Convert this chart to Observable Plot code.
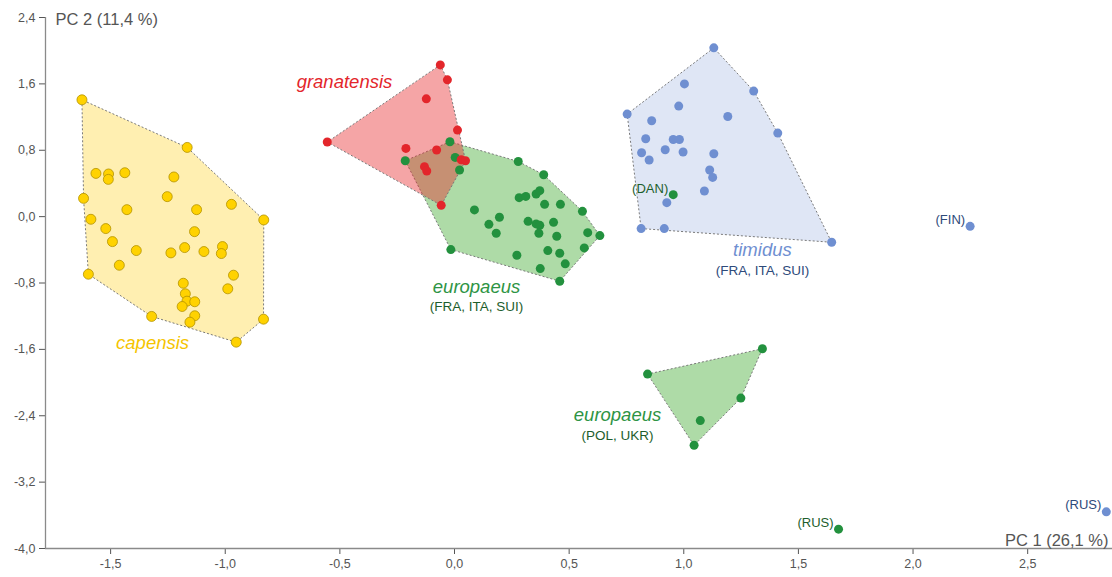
<!DOCTYPE html>
<html>
<head>
<meta charset="utf-8">
<script src="https://cdn.jsdelivr.net/npm/d3@7"></script>
<script src="https://cdn.jsdelivr.net/npm/@observablehq/plot@0.6"></script>
<style>
  html, body { margin: 0; padding: 0; background: #fff; }
  #chart { width: 1112px; height: 577px; }
</style>
</head>
<body>
<div id="chart"></div>
<script>
// ---- data (PC1, PC2) ----
const capensis = [
  [-1.625, 1.408], [-1.166, 0.834], [-1.564, 0.521], [-1.509, 0.514], [-1.510, 0.449],
  [-1.438, 0.529], [-1.224, 0.478], [-1.618, 0.220], [-1.253, 0.241], [-1.429, 0.084],
  [-1.125, 0.084], [-0.973, 0.148], [-0.832, -0.040], [-1.586, -0.032], [-1.521, -0.144],
  [-1.134, -0.181], [-1.492, -0.301], [-1.388, -0.409], [-1.237, -0.437], [-1.177, -0.373],
  [-1.093, -0.421], [-1.012, -0.361], [-1.017, -0.445], [-1.462, -0.586], [-1.597, -0.694],
  [-0.964, -0.706], [-0.989, -0.870], [-1.183, -0.803], [-1.174, -0.930], [-1.167, -1.019],
  [-1.133, -1.026], [-1.188, -1.083], [-1.133, -1.195], [-1.154, -1.272], [-1.321, -1.203],
  [-0.833, -1.236], [-0.952, -1.513]
];
const granatensis = [
  [-0.062, 1.829], [-0.031, 1.649], [-0.123, 1.420], [0.013, 1.043], [-0.555, 0.899],
  [-0.212, 0.822], [-0.078, 0.803], [0.029, 0.686], [0.048, 0.674], [-0.131, 0.602],
  [-0.121, 0.550], [-0.058, 0.136]
];
const europaeusWest = [
  [-0.020, 0.903], [-0.215, 0.674], [0.003, 0.714], [0.022, 0.562], [0.278, 0.665],
  [0.389, 0.505], [0.282, 0.229], [0.311, 0.244], [0.356, 0.273], [0.372, 0.313],
  [0.393, 0.148], [0.462, 0.148], [0.558, 0.064], [0.087, 0.081], [0.196, -0.008],
  [0.150, -0.093], [0.182, -0.201], [0.321, -0.057], [0.356, -0.088], [0.372, -0.105],
  [0.368, -0.201], [0.432, -0.069], [0.446, -0.237], [0.581, -0.193], [0.634, -0.229],
  [0.566, -0.377], [0.459, -0.442], [0.407, -0.409], [0.483, -0.569], [0.374, -0.626],
  [0.272, -0.466], [-0.016, -0.397], [0.459, -0.779]
];
const europaeusEast = [
  [0.842, -1.898], [1.343, -1.592], [1.249, -2.187], [1.072, -2.458], [1.045, -2.756]
];
const timidus = [
  [1.131, 2.034], [1.305, 1.513], [1.003, 1.600], [0.978, 1.332], [0.753, 1.236],
  [0.860, 1.155], [1.192, 1.207], [1.410, 1.007], [0.834, 0.939], [0.954, 0.930],
  [0.981, 0.930], [0.816, 0.770], [0.849, 0.682], [0.919, 0.806], [0.997, 0.779],
  [1.131, 0.758], [1.113, 0.562], [1.126, 0.473], [1.090, 0.309], [0.926, 0.168],
  [0.814, -0.144], [0.915, -0.144], [1.645, -0.309]
];
// single labelled specimens
const europaeusOutliers = [
  {x: 0.954, y: 0.265, label: "(DAN)"},
  {x: 1.675, y: -3.767, label: "(RUS)"}
];
const timidusOutliers = [
  {x: 2.249, y: -0.117, label: "(FIN)"},
  {x: 2.843, y: -3.558, label: "(RUS)"}
];
// group names and their place in the chart (data units)
const groupTitles = [
  {x: -0.480, y: 1.625, text: "granatensis", c: "red"},
  {x: 0.096, y: -0.854, text: "europaeus", c: "green"},
  {x: -1.317, y: -1.528, text: "capensis", c: "yellow"},
  {x: 1.343, y: -0.409, text: "timidus", c: "blue"},
  {x: 0.711, y: -2.395, text: "europaeus", c: "green"}
];
const groupSubtitles = [
  {x: 0.096, y: -1.083, text: "(FRA, ITA, SUI)", c: "green"},
  {x: 1.343, y: -0.650, text: "(FRA, ITA, SUI)", c: "blue"},
  {x: 0.711, y: -2.635, text: "(POL, UKR)", c: "green"}
];
const xTicks = [-1.5, -1.0, -0.5, 0.0, 0.5, 1.0, 1.5, 2.0, 2.5];
const yTicks = [-4.0, -3.2, -2.4, -1.6, -0.8, 0.0, 0.8, 1.6, 2.4];
const xDomain = [-1.784, 2.87];
const yDomain = [-4.0, 2.4];

// ---- styles ----
const col = {
  yellow: {dot: "#FFD200", hull: "#FFD21F", title: "#F5C400", sub: "#F5C400"},
  red:    {dot: "#E3262B", hull: "#E8282B", title: "#E3262B", sub: "#E3262B"},
  green:  {dot: "#23913E", hull: "#4CAF3C", title: "#2E9444", sub: "#1D5E2C"},
  blue:   {dot: "#6F8FD1", hull: "#6F8FD1", title: "#6F8FD1", sub: "#2E4A7A"}
};
const fmt = v => d3.format(".1f")(v).replace(".", ",").replace("−", "-");

function hullMark(pts, color, opacity) {
  const opts = {x: d => d[0], y: d => d[1], fill: color, fillOpacity: opacity,
                stroke: "#7a7a7a", strokeWidth: 1, strokeDasharray: "2,2"};
  if (typeof Plot.hull === "function") return Plot.hull(pts, opts);
  const h = d3.polygonHull(pts);
  h.push(h[0]);
  return Plot.line(h, opts);
}

const chart = Plot.plot({
  width: 1112,
  height: 577,
  marginLeft: 45,
  marginRight: 0,
  marginTop: 17,
  marginBottom: 29,
  style: {fontFamily: "'Liberation Sans', Arial, sans-serif", fontSize: "12.5px", color: "#555", background: "#fff"},
  x: {domain: xDomain, ticks: xTicks, tickFormat: fmt, tickSize: 6, tickPadding: 5, label: null},
  y: {domain: yDomain, ticks: yTicks, tickFormat: fmt, tickSize: 6, tickPadding: 4, label: null},
  marks: [
    Plot.ruleX([xDomain[0]], {y1: yDomain[0], y2: yDomain[1], stroke: "#8a8a8a", strokeWidth: 1.3}),
    Plot.ruleY([yDomain[0]], {x1: xDomain[0], x2: xDomain[1], stroke: "#8a8a8a", strokeWidth: 1.3}),
    hullMark(capensis, col.yellow.hull, 0.35),
    hullMark(timidus, col.blue.hull, 0.22),
    hullMark(europaeusEast, col.green.hull, 0.45),
    hullMark(europaeusWest, col.green.hull, 0.45),
    hullMark(granatensis, col.red.hull, 0.42),
    Plot.dot(capensis, {x: d => d[0], y: d => d[1], r: 5, fill: col.yellow.dot, stroke: "#B39200", strokeWidth: 0.8}),
    Plot.dot(timidus, {x: d => d[0], y: d => d[1], r: 4.5, fill: col.blue.dot}),
    Plot.dot(timidusOutliers, {x: "x", y: "y", r: 4.5, fill: col.blue.dot}),
    Plot.dot(europaeusWest, {x: d => d[0], y: d => d[1], r: 4.5, fill: col.green.dot}),
    Plot.dot(europaeusEast, {x: d => d[0], y: d => d[1], r: 4.5, fill: col.green.dot}),
    Plot.dot(europaeusOutliers, {x: "x", y: "y", r: 4.5, fill: col.green.dot}),
    Plot.dot(granatensis, {x: d => d[0], y: d => d[1], r: 4.5, fill: col.red.dot}),
    Plot.text(europaeusOutliers, {x: "x", y: "y", text: "label", textAnchor: "end", dx: -5, dy: -6, fontSize: 13, fill: col.green.sub}),
    Plot.text(timidusOutliers, {x: "x", y: "y", text: "label", textAnchor: "end", dx: -5, dy: -7, fontSize: 13, fill: col.blue.sub}),
    Plot.text(groupTitles, {x: "x", y: "y", text: "text", fontSize: 18.5, fontStyle: "italic", fill: d => col[d.c].title}),
    Plot.text(groupSubtitles, {x: "x", y: "y", text: "text", fontSize: 13.5, fill: d => col[d.c].sub}),
    Plot.text(["PC 2 (11,4 %)"], {frameAnchor: "top-left", textAnchor: "start", lineAnchor: "top", dx: 10, dy: -4, fontSize: 16.5, fill: "#555"}),
    Plot.text(["PC 1 (26,1 %)"], {frameAnchor: "bottom-right", textAnchor: "end", lineAnchor: "bottom", dx: -4, dy: -3, fontSize: 16.5, fill: "#555"})
  ]
});
document.getElementById("chart").appendChild(chart);
</script>
</body>
</html>
